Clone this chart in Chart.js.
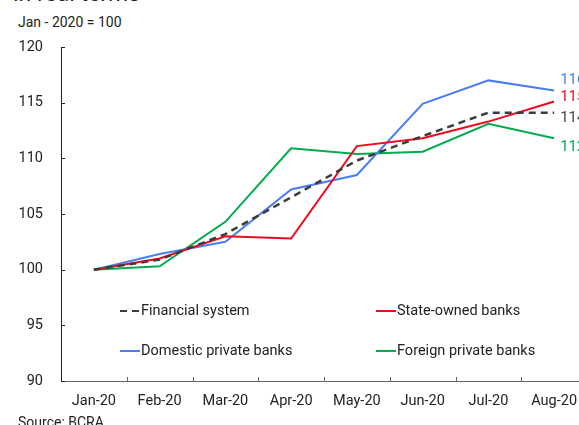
<!DOCTYPE html>
<html>
<head>
<meta charset="utf-8">
<script src="https://cdn.jsdelivr.net/npm/chart.js@4"></script>
<style>
  html, body { margin: 0; padding: 0; background: #fff; overflow: hidden; width: 579px; height: 425px; }
  .wrap { position: relative; width: 579px; height: 425px; overflow: hidden; font-family: Roboto, sans-serif; color: #222; }
  .title { position: absolute; left: 13px; top: -20px; font-size: 23px; line-height: 27px; white-space: nowrap; }
  .unit { position: absolute; left: 18px; top: 13px; font-size: 14px; line-height: 18px; }
  .source { position: absolute; left: 18px; top: 413px; font-size: 14px; line-height: 18px; }
  canvas { position: absolute; left: 0; top: 0; }
</style>
</head>
<body>
<div class="wrap">
  <div class="title">in real terms</div>
  <div class="unit">Jan - 2020 = 100</div>
  <canvas id="chart" width="600" height="425"></canvas>
  <div class="source">Source: BCRA</div>
</div>
<script>
const months = ['Jan-20', 'Feb-20', 'Mar-20', 'Apr-20', 'May-20', 'Jun-20', 'Jul-20', 'Aug-20'];
const financialSystem = [100, 100.9, 103.2, 106.5, 109.8, 112.0, 114.1, 114.1];
const stateOwned      = [100, 101.0, 103.0, 102.8, 111.1, 111.8, 113.3, 115.1];
const domesticPrivate = [100, 101.4, 102.5, 107.2, 108.5, 114.9, 117.0, 116.1];
const foreignPrivate  = [100, 100.3, 104.3, 110.9, 110.4, 110.6, 113.1, 111.8];
const yTicks = [90, 95, 100, 105, 110, 115, 120];

const FONT = 'Roboto, sans-serif';

// legend slots (px, relative to the chart area) and end-label nudges
const legendSlots = [[59, 264], [315, 264], [59, 304], [315, 304]];
const endNudge = [6, -4, -10, 9];

const annotate = {
  id: 'annotate',
  afterDraw(chart) {
    const { ctx, chartArea: a, scales: { x, y } } = chart;
    ctx.save();

    // inward tick marks on both axes
    ctx.lineWidth = 1;
    ctx.strokeStyle = '#222';
    yTicks.forEach(v => {
      const py = Math.round(y.getPixelForValue(v)) + 0.5;
      ctx.beginPath(); ctx.moveTo(a.left, py); ctx.lineTo(a.left + 4, py); ctx.stroke();
    });
    ctx.strokeStyle = '#666';
    const step = (a.right - a.left) / months.length;
    for (let i = 1; i < months.length; i++) {
      const px = Math.round(a.left + i * step) + 0.5;
      ctx.beginPath(); ctx.moveTo(px, a.bottom); ctx.lineTo(px, a.bottom - 4); ctx.stroke();
    }

    // legend inside the plot
    ctx.font = '14.5px ' + FONT;
    ctx.textBaseline = 'middle';
    ctx.textAlign = 'left';
    chart.data.datasets.forEach((ds, i) => {
      const [lx, ly] = legendSlots[i];
      const sx = a.left + lx, sy = a.top + ly;
      ctx.strokeStyle = ds.borderColor;
      ctx.lineWidth = 2;
      ctx.setLineDash(ds.borderDash || []);
      ctx.beginPath(); ctx.moveTo(sx, sy); ctx.lineTo(sx + 20, sy); ctx.stroke();
      ctx.setLineDash([]);
      ctx.fillStyle = '#222';
      ctx.fillText(ds.label, sx + 21, sy);
    });

    // value labels at the line ends
    ctx.font = '15px ' + FONT;
    chart.data.datasets.forEach((ds, i) => {
      const meta = chart.getDatasetMeta(i);
      const pt = meta.data[meta.data.length - 1];
      const val = ds.data[ds.data.length - 1];
      ctx.fillStyle = ds.borderColor === '#3c3c3c' ? '#444' : ds.borderColor;
      ctx.fillText(String(Math.round(val)), pt.x + 6, pt.y + endNudge[i]);
    });
    ctx.restore();
  }
};

new Chart(document.getElementById('chart'), {
  type: 'line',
  data: {
    labels: months,
    datasets: [
      { label: 'Financial system', data: financialSystem, borderColor: '#3c3c3c', borderDash: [7, 5], borderWidth: 2.5 },
      { label: 'State-owned banks', data: stateOwned, borderColor: '#ee0a1e', borderWidth: 2 },
      { label: 'Domestic private banks', data: domesticPrivate, borderColor: '#4a7ef0', borderWidth: 2 },
      { label: 'Foreign private banks', data: foreignPrivate, borderColor: '#00ac4c', borderWidth: 2 }
    ]
  },
  options: {
    responsive: false,
    animation: false,
    devicePixelRatio: 1,
    layout: { padding: { top: 47, right: 13, bottom: 0, left: 0 } },
    elements: { point: { radius: 0 }, line: { tension: 0 } },
    plugins: { legend: { display: false }, tooltip: { enabled: false } },
    scales: {
      x: {
        offset: true,
        grid: { display: false, drawTicks: false },
        border: { display: true, color: '#666', width: 1 },
        ticks: { color: '#222', font: { family: FONT, size: 14.5 }, padding: 12, maxRotation: 0, autoSkip: false },
        afterFit: s => { s.height = 44; }
      },
      y: {
        min: 90,
        max: 120,
        grid: { display: false, drawTicks: false },
        border: { display: true, color: '#222', width: 1 },
        ticks: { stepSize: 5, color: '#222', font: { family: FONT, size: 14.5 }, padding: 18 },
        afterFit: s => { s.width = 61; }
      }
    }
  },
  plugins: [annotate]
});
</script>
</body>
</html>
